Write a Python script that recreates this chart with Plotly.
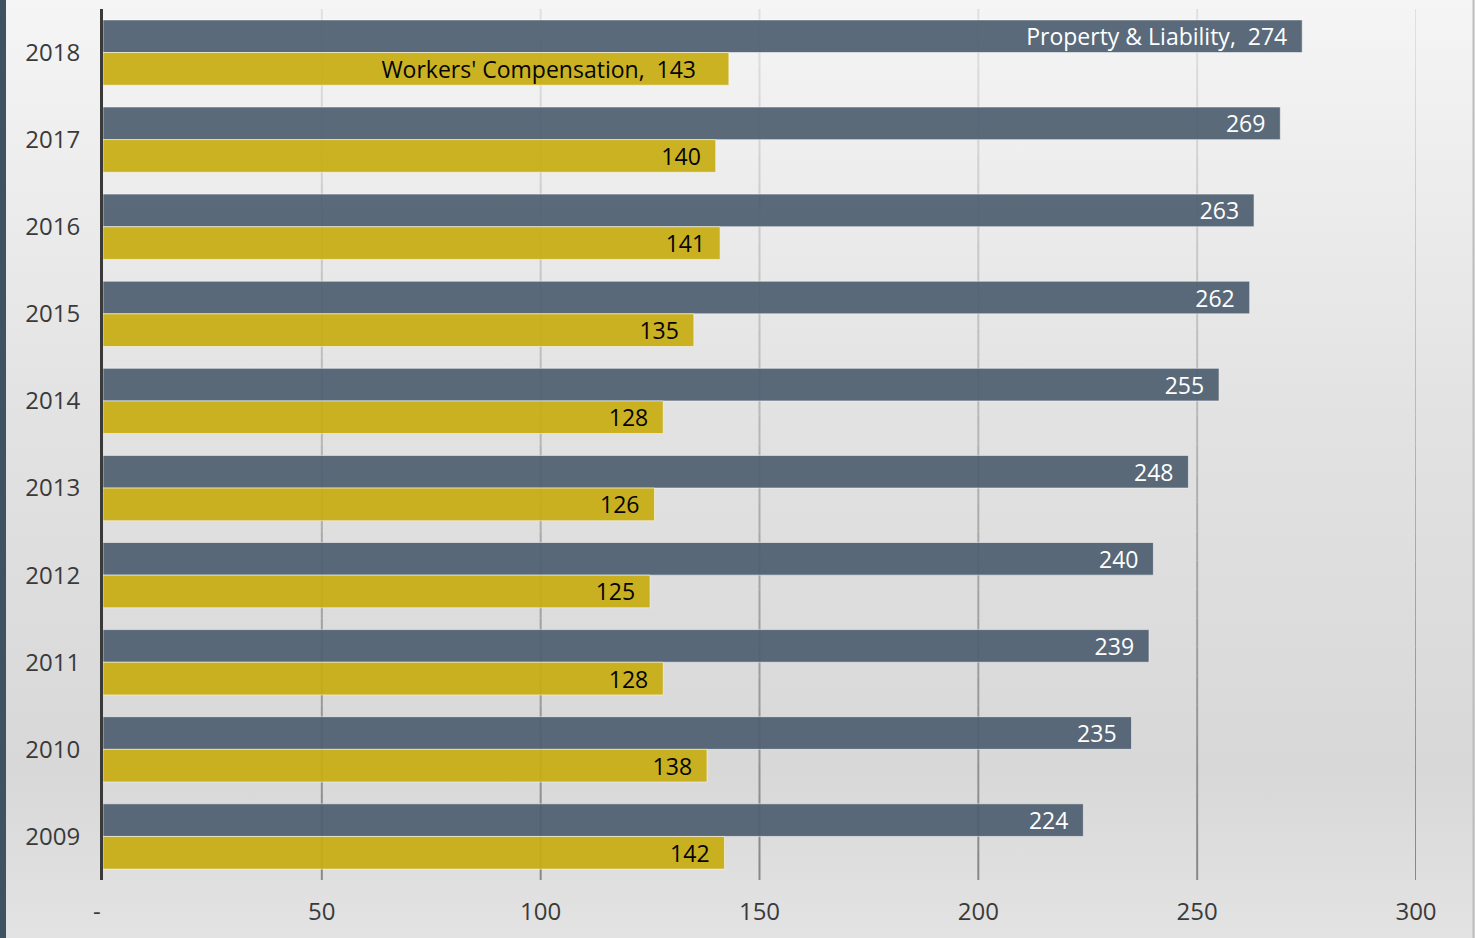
import base64
import plotly.graph_objects as go

# ---- data ----
years = ["2018", "2017", "2016", "2015", "2014", "2013", "2012", "2011", "2010", "2009"]
property_liability = [274, 269, 263, 262, 255, 248, 240, 239, 235, 224]
workers_comp = [143, 140, 141, 135, 128, 126, 125, 128, 138, 142]
series_names = ["Property & Liability", "Workers' Compensation"]
x_tick_vals = [0, 50, 100, 150, 200, 250, 300]
x_tick_text = ["-\u00a0\u00a0", "50", "100", "150", "200", "250", "300"]

# ---- layout geometry ----
W, H = 1475, 938
ML, MR, MT, MB = 103, 59, 9, 58
PW, PH = W - ML - MR, H - MT - MB

def px_x(px):
    return (px - ML) / PW

def px_y(py):
    return 1 - (py - MT) / PH

FONT = "Open Sans"
NBSP = "\u00a0"

def labels(name, vals, first_pad):
    out = []
    for i, v in enumerate(vals):
        if i == 0:
            out.append(f"{name},{NBSP}{NBSP}{v}" + NBSP * first_pad)
        else:
            out.append(f"{v}{NBSP}{NBSP}")
    return out

fig = go.Figure()
fig.add_trace(go.Bar(
    y=years, x=property_liability, orientation="h", name=series_names[0],
    marker=dict(color="#4e5f70", opacity=0.92, line=dict(color="rgba(255,255,255,0.55)", width=1)),
    text=labels(series_names[0], property_liability, 2), textposition="inside",
    insidetextanchor="end", textangle=0, constraintext="none",
    insidetextfont=dict(family=FONT, size=23, color="white"),
))
fig.add_trace(go.Bar(
    y=years, x=workers_comp, orientation="h", name=series_names[1],
    marker=dict(color="#c7ad11", opacity=0.92, line=dict(color="rgba(255,255,255,0.55)", width=1)),
    text=labels(series_names[1], workers_comp, 5), textposition="inside",
    insidetextanchor="end", textangle=0, constraintext="none",
    insidetextfont=dict(family=FONT, size=23, color="#050505"),
))

# background gradient as svg image
svg = (
    '<svg xmlns="http://www.w3.org/2000/svg" width="100" height="100" preserveAspectRatio="none">'
    '<defs><linearGradient id="g" x1="0" y1="0" x2="0" y2="1">'
    '<stop offset="0" stop-color="#f5f5f5"/>'
    '<stop offset="0.45" stop-color="#e2e2e2"/>'
    '<stop offset="0.82" stop-color="#d8d8d8"/>'
    '<stop offset="1" stop-color="#e3e3e3"/>'
    '</linearGradient></defs>'
    '<rect width="100" height="100" fill="url(#g)"/></svg>'
)
uri = "data:image/svg+xml;base64," + base64.b64encode(svg.encode()).decode()
fig.add_layout_image(dict(
    source=uri, xref="paper", yref="paper", x=px_x(0), y=px_y(0),
    sizex=W / PW, sizey=H / PH, xanchor="left", yanchor="top",
    sizing="stretch", layer="below",
))

# gradient gridlines (segmented)
N = 30
c_top, c_bot = 0xe2, 0x86
shapes = []
for tv in x_tick_vals[1:]:
    for k in range(N):
        f = (k + 0.5) / N
        c = int(round(c_top + (c_bot - c_top) * f))
        shapes.append(dict(
            type="line", xref="x", yref="paper", x0=tv, x1=tv,
            y0=1 - k / N, y1=1 - (k + 1) / N,
            line=dict(color=f"rgb({c},{c},{c})", width=2), layer="below",
        ))
# left dark strip and right edge line
shapes.append(dict(type="rect", xref="paper", yref="paper", x0=px_x(0), x1=px_x(6),
                   y0=px_y(H), y1=px_y(0), fillcolor="#3f5262", line=dict(width=0), layer="above"))
shapes.append(dict(type="line", xref="paper", yref="paper", x0=px_x(1473.5), x1=px_x(1473.5),
                   y0=px_y(H), y1=px_y(0), line=dict(color="#bdbdbd", width=2), layer="above"))

fig.update_layout(
    width=W, height=H,
    margin=dict(l=ML, r=MR, t=MT, b=MB, pad=0),
    paper_bgcolor="#e6e6e6", plot_bgcolor="rgba(0,0,0,0)",
    barmode="group", bargap=0.25, bargroupgap=0.0,
    showlegend=False, shapes=shapes,
    font=dict(family=FONT, size=22, color="#3a3a3a"),
)
fig.update_xaxes(
    range=[0, 300], tickvals=x_tick_vals, ticktext=x_tick_text,
    showgrid=False, zeroline=False, showline=False, ticks="",
    tickfont=dict(family=FONT, size=24, color="#3a3a3a"), ticklabelstandoff=15,
)
fig.update_yaxes(
    autorange="reversed", showgrid=False, zeroline=False,
    showline=True, linecolor="#3a3a3a", linewidth=3, ticks="",
    tickfont=dict(family=FONT, size=24, color="#3a3a3a"), ticklabelstandoff=15,
)

fig.write_html(
    "out.html",
    config={"displayModeBar": False},
    post_script="document.body.style.margin='0';document.body.style.overflow='hidden';",
)
